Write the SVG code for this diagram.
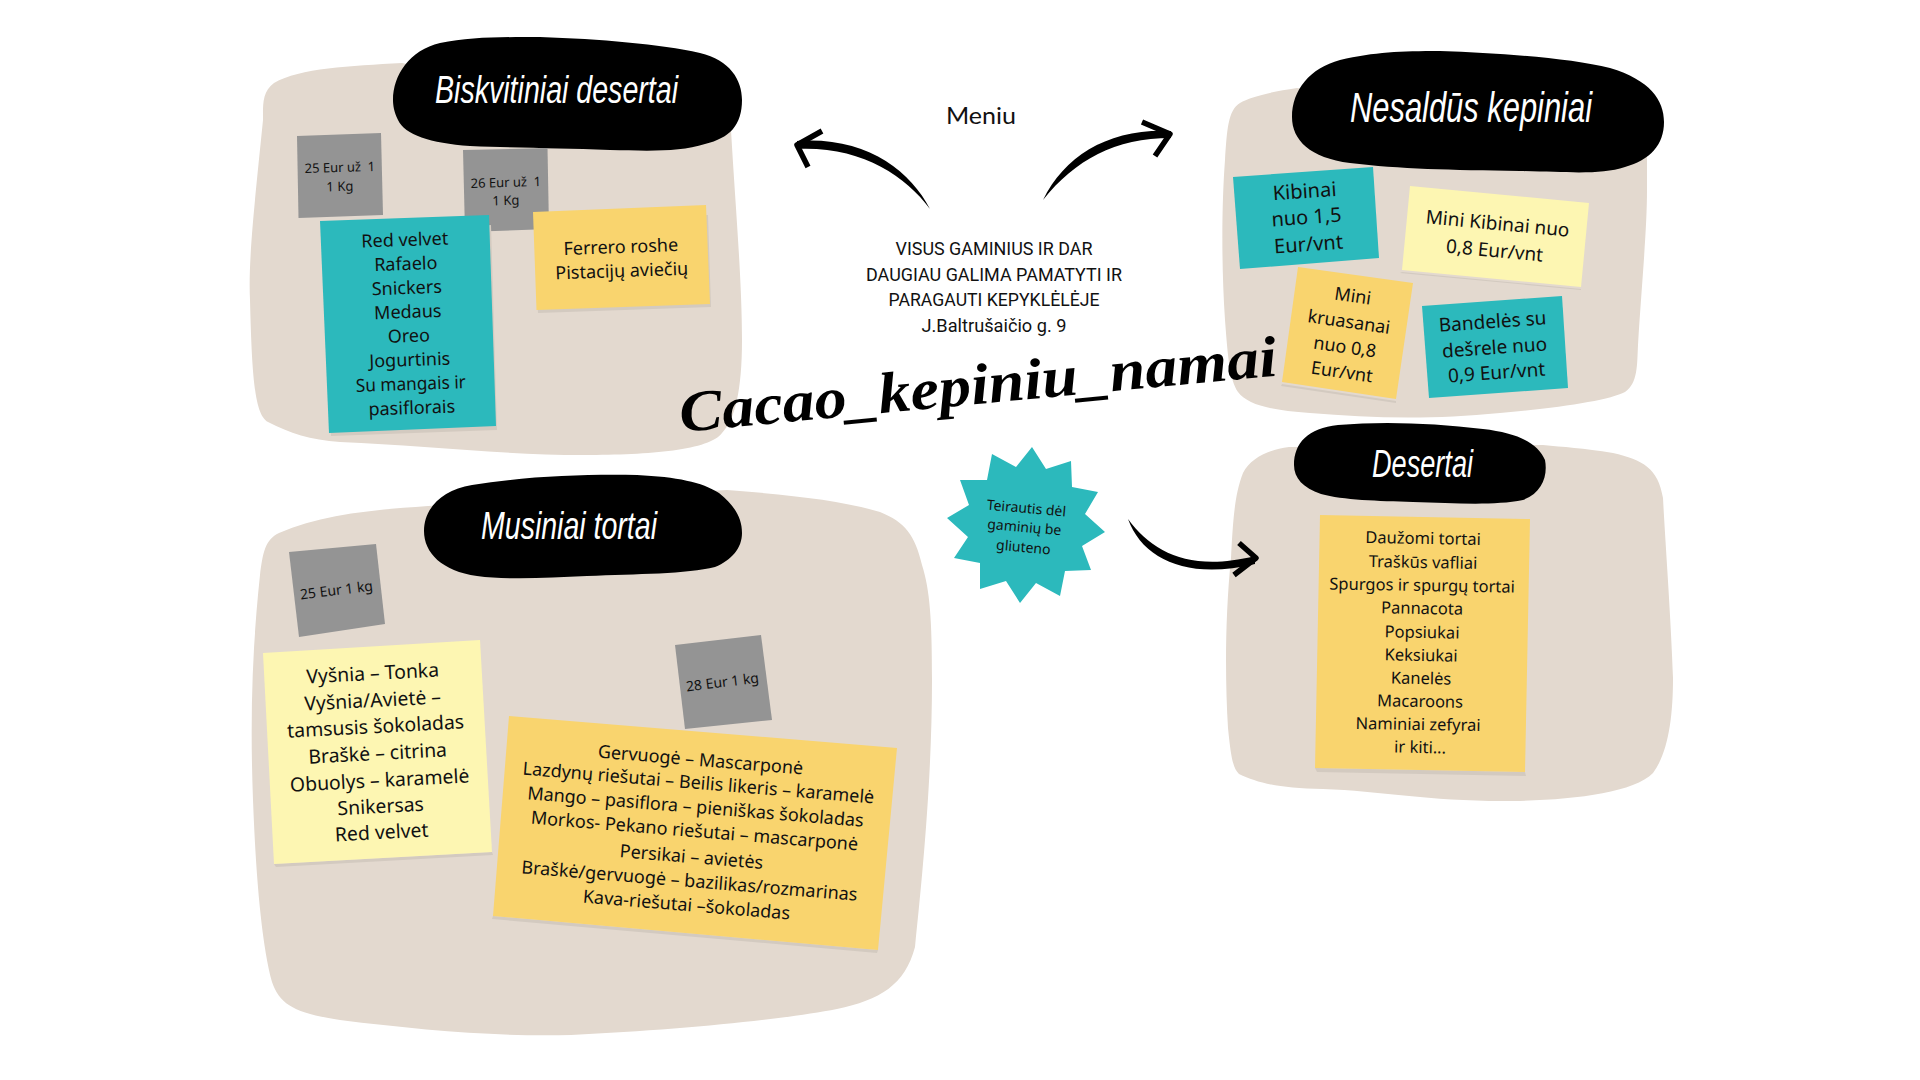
<svg xmlns="http://www.w3.org/2000/svg" width="1920" height="1080" viewBox="0 0 1920 1080">
<style>
text{font-family:"Noto Sans","Open Sans","Liberation Sans",sans-serif;fill:#111;text-anchor:middle;white-space:pre}
.bg{fill:#E3D9CF}
.head{fill:#000}
.title{font-family:"Liberation Sans Narrow","Liberation Sans",sans-serif;font-style:italic;fill:#fff;text-anchor:start}
.teal{fill:#2CB9BC}
.orange{fill:#F9D46E}
.yellow{fill:#FDF6B2}
.gray{fill:#949494}
.shadow{fill:#D3CAC0}
.s13{font-size:13px}
.s14{font-size:14px}
.s17{font-size:16.5px}
.s18{font-size:18px}
.s19{font-size:19px}
.cap{font-family:"Roboto","Liberation Sans",sans-serif;font-size:17.5px}
.ink{fill:#000;stroke:none}
.head-stroke{fill:none;stroke:#000;stroke-width:5.5;stroke-linecap:butt;stroke-linejoin:round}
</style>
<g id="biskvitiniai">
<path class="bg" d="M402,63C350,66 300,68 274,83C262,92 263,105 263,120C255,200 248,260 250,300C252,380 255,415 268,422C290,433 310,440 340,442C420,445 500,455 584,455C650,455 710,450 722,433C735,420 742,390 742,340C742,280 735,200 731,130Z"/>
<path class="head" d="M393,100C393,75 410,50 440,43C470,37 500,37 540,37C600,39 660,44 700,53C730,60 742,80 742,100C742,125 730,138 705,144C680,152 650,151 610,150C560,148 520,148 470,146C430,143 405,135 398,120C394,112 393,105 393,100Z"/>
<text class="title" x="435" y="103" font-size="39" textLength="243" lengthAdjust="spacingAndGlyphs">Biskvitiniai desertai</text>
<g id="kaina-25">
<polygon class="gray" points="297,136 381,133 383,215 298.5,218"/>
<text class="s13" transform="rotate(-1.6 340 172)" x="340" y="172">25 Eur už  1</text>
<text class="s13" transform="rotate(-1.6 340 191)" x="340" y="191">1 Kg</text>
</g>
<g id="kaina-26">
<polygon class="gray" points="463,150 547.5,148 549,229 465,232"/>
<text class="s13" transform="rotate(-1.6 506 187)" x="506" y="187">26 Eur už  1</text>
<text class="s13" transform="rotate(-1.6 506 205)" x="506" y="205">1 Kg</text>
</g>
<g id="biskvitiniai-list">
<polygon class="shadow" points="322,240 491,225 497,430 331,436"/>
<polygon class="teal" points="320,221 489,215 496,426 329,433"/>
<g class="s18">
<text transform="rotate(-2 405 246)" x="405" y="246">Red velvet</text>
<text transform="rotate(-2 406 270)" x="406" y="270">Rafaelo</text>
<text transform="rotate(-2 407 294)" x="407" y="294">Snickers</text>
<text transform="rotate(-2 408 318)" x="408" y="318">Medaus</text>
<text transform="rotate(-2 409 342)" x="409" y="342">Oreo</text>
<text transform="rotate(-2 410 366)" x="410" y="366">Jogurtinis</text>
<text transform="rotate(-2 411 390)" x="411" y="390" textLength="110" lengthAdjust="spacingAndGlyphs">Su mangais ir</text>
<text transform="rotate(-2 412 414)" x="412" y="414">pasiflorais</text>
</g>
</g>
<g id="ferrero">
<polygon class="shadow" points="535,225 708,215 711,307 538,313"/>
<polygon class="orange" points="533,212 706,205 710,304 536.5,310"/>
<g class="s18">
<text transform="rotate(-2 621 253)" x="621" y="253">Ferrero roshe</text>
<text transform="rotate(-2 622 277)" x="622" y="277">Pistacijų aviečių</text>
</g>
</g>
</g>
<g id="nesaldus">
<path class="bg" d="M1297,88C1270,92 1250,97 1240,103C1228,110 1227,130 1225,160C1222,200 1221,260 1225,320C1228,360 1230,380 1238,392C1248,405 1270,410 1310,413C1370,418 1430,420 1500,413C1560,408 1610,400 1625,392C1638,383 1637,365 1638,345C1642,280 1647,230 1647,190L1647,150Z"/>
<path class="head" d="M1292,117C1292,90 1310,68 1340,60C1375,52 1400,51 1440,51C1500,53 1570,58 1610,68C1650,80 1664,100 1664,122C1664,145 1650,160 1625,167C1600,175 1570,172 1520,171C1450,170 1400,169 1350,163C1310,158 1292,140 1292,117Z"/>
<text class="title" x="1350" y="122" font-size="42" textLength="242" lengthAdjust="spacingAndGlyphs">Nesaldūs kepiniai</text>
<g id="kibinai">
<polygon class="teal" points="1233,177 1373,167 1379,258 1240,269"/>
<g font-size="20">
<text transform="rotate(-4 1305 198)" x="1305" y="198">Kibinai</text>
<text transform="rotate(-4 1307 224)" x="1307" y="224">nuo 1,5</text>
<text transform="rotate(-4 1309 251)" x="1309" y="251">Eur/vnt</text>
</g>
</g>
<g id="mini-kibinai">
<polygon class="shadow" points="1402,272 1581,289 1581,290 1400,273"/>
<polygon class="yellow" points="1410,186 1589,203 1581,287 1402,270"/>
<g class="s19">
<text transform="rotate(5.4 1497 230)" x="1497" y="230">Mini Kibinai nuo</text>
<text transform="rotate(5.4 1494 257)" x="1494" y="257">0,8 Eur/vnt</text>
</g>
</g>
<g id="mini-kruasanai">
<polygon class="shadow" points="1282,384 1396,401 1396,403 1281,386"/>
<polygon class="orange" points="1298,267 1413,283 1396,399 1282,382"/>
<g class="s18">
<text transform="rotate(8.2 1352 302)" x="1352" y="302">Mini</text>
<text transform="rotate(8.2 1348 328)" x="1348" y="328">kruasanai</text>
<text transform="rotate(8.2 1344 353)" x="1344" y="353">nuo 0,8</text>
<text transform="rotate(8.2 1341 378)" x="1341" y="378">Eur/vnt</text>
</g>
</g>
<g id="bandeles">
<polygon class="teal" points="1422,306 1562,296 1568,388 1429,398"/>
<g class="s19">
<text transform="rotate(-4 1493 328)" x="1493" y="328">Bandelės su</text>
<text transform="rotate(-4 1495 354)" x="1495" y="354">dešrele nuo</text>
<text transform="rotate(-4 1497 379)" x="1497" y="379">0,9 Eur/vnt</text>
</g>
</g>
</g>
<g id="musiniai">
<path class="bg" d="M428,506C370,510 320,515 279,533C265,540 263,552 260,575C252,650 250,720 253,800C256,880 262,945 272,982C280,1005 295,1013 340,1020C420,1030 500,1037 571,1035C680,1030 780,1020 837,1009C880,1000 905,985 915,947C922,880 932,780 932,680C932,620 930,590 922,565C915,535 905,522 880,512C840,500 790,495 727,490Z"/>
<g transform="translate(-3,-2)">
<path class="head" d="M427,533C427,510 445,492 475,487C530,478 590,476 640,477C680,479 705,484 722,495C738,508 745,520 745,535C745,550 735,562 718,569C690,576 640,576 590,578C550,580 510,582 480,578C445,573 427,555 427,533Z"/>
<text class="title" x="484" y="541" font-size="38" textLength="176" lengthAdjust="spacingAndGlyphs">Musiniai tortai</text>
</g>
<g id="kaina-25-kg" transform="translate(-1,-4)">
<polygon class="gray" points="290,556 377,548 386,628 300,641"/>
<text class="s14" transform="rotate(-7 338 599)" x="338" y="599">25 Eur 1 kg</text>
</g>
<g id="kaina-28-kg" transform="translate(-4,-4)">
<polygon class="gray" points="679,649 765,639 776,724 689,733"/>
<text class="s14" transform="rotate(-7 727 691)" x="727" y="691">28 Eur 1 kg</text>
</g>
<g id="vysnia" transform="translate(-2,-5)">
<polygon class="shadow" points="276,869 494,857 495,860 278,872"/>
<polygon class="yellow" points="265,658 482,645 494,857 276,869"/>
<g font-size="19.4">
<text transform="rotate(-3 375 685)" x="375" y="685">Vyšnia – Tonka</text>
<text transform="rotate(-3 375 712)" x="375" y="712">Vyšnia/Avietė –</text>
<text transform="rotate(-3 378 738)" x="378" y="738">tamsusis šokoladas</text>
<text transform="rotate(-3 380 765)" x="380" y="765">Braškė – citrina</text>
<text transform="rotate(-3 382 792)" x="382" y="792">Obuolys – karamelė</text>
<text transform="rotate(-3 383 818)" x="383" y="818">Snikersas</text>
<text transform="rotate(-3 384 844)" x="384" y="844">Red velvet</text>
</g>
</g>
<g id="gervuoge" transform="translate(-3,-5)">
<polygon class="shadow" points="496,921 881,955 880,958 495,924"/>
<polygon class="orange" points="512,721 900,753 881,955 496,921"/>
<g font-size="18" transform="translate(-1,-3)">
<text transform="rotate(4.7 704 774)" x="704" y="774">Gervuogė – Mascarponė</text>
<text transform="rotate(4.7 702 797)" x="702" y="797">Lazdynų riešutai – Beilis likeris – karamelė</text>
<text transform="rotate(4.7 699 821)" x="699" y="821">Mango – pasiflora – pieniškas šokoladas</text>
<text transform="rotate(4.7 698 845)" x="698" y="845">Morkos- Pekano riešutai – mascarponė</text>
<text transform="rotate(4.7 695 871)" x="695" y="871">Persikai – avietės</text>
<text transform="rotate(4.7 693 895)" x="693" y="895">Braškė/gervuogė – bazilikas/rozmarinas</text>
<text transform="rotate(4.7 690 919)" x="690" y="919">Kava-riešutai –šokoladas</text>
</g>
</g>
</g>
<g id="desertai" transform="translate(-7,-2)">
<path class="bg" d="M1296,449C1275,452 1258,460 1250,475C1242,495 1240,520 1238,560C1232,620 1232,680 1235,730C1238,760 1240,770 1246,776C1265,785 1285,790 1330,791C1390,793 1440,804 1520,803C1580,802 1640,795 1660,775C1675,755 1680,720 1680,680C1678,620 1672,540 1670,500C1665,470 1650,462 1620,455C1590,450 1570,449 1550,447Z"/>
<path class="head" d="M1301,467C1301,445 1315,430 1345,427C1390,423 1440,425 1490,431C1525,435 1545,445 1552,462C1555,478 1549,495 1530,502C1500,508 1460,505 1420,504C1385,503 1350,502 1328,496C1310,490 1301,480 1301,467Z"/>
<text class="title" x="1379" y="479" font-size="38" textLength="101" lengthAdjust="spacingAndGlyphs">Desertai</text>
<g id="desertai-list">
<polygon class="shadow" points="1322,770 1532,774 1533,778 1324,774"/>
<polygon class="orange" points="1327,517 1537,521 1532,774 1322,770"/>
<g class="s17">
<text transform="rotate(1 1430 546)" x="1430" y="546">Daužomi tortai</text>
<text transform="rotate(1 1430 570)" x="1430" y="570">Traškūs vafliai</text>
<text transform="rotate(1 1429 593)" x="1429" y="593">Spurgos ir spurgų tortai</text>
<text transform="rotate(1 1429 616)" x="1429" y="616">Pannacota</text>
<text transform="rotate(1 1429 640)" x="1429" y="640">Popsiukai</text>
<text transform="rotate(1 1428 663)" x="1428" y="663">Keksiukai</text>
<text transform="rotate(1 1428 686)" x="1428" y="686">Kanelės</text>
<text transform="rotate(1 1427 709)" x="1427" y="709">Macaroons</text>
<text transform="rotate(1 1425 732)" x="1425" y="732">Naminiai zefyrai</text>
<text transform="rotate(1 1427 755)" x="1427" y="755">ir kiti...</text>
</g>
</g>
</g>
<g id="info">
<text class="cap" x="994" y="255" textLength="197" lengthAdjust="spacingAndGlyphs">VISUS GAMINIUS IR DAR</text>
<text class="cap" x="994" y="281" textLength="256" lengthAdjust="spacingAndGlyphs">DAUGIAU GALIMA PAMATYTI IR</text>
<text class="cap" x="994" y="306" textLength="211" lengthAdjust="spacingAndGlyphs">PARAGAUTI KEPYKLĖLĖJE</text>
<text class="cap" x="994" y="332" textLength="145" lengthAdjust="spacingAndGlyphs">J.Baltrušaičio g. 9</text>
</g>
<g id="meniu">
<text x="986" y="124" font-size="24" textLength="70" lengthAdjust="spacingAndGlyphs" style="font-family:'Lato','Liberation Sans',sans-serif;text-anchor:middle" transform="translate(-5,0)">Meniu</text>
</g>
<g id="brand">
<text transform="translate(681,432) rotate(-5.4)" x="0" y="0" font-size="58" font-weight="700" font-style="italic" textLength="600" lengthAdjust="spacingAndGlyphs" style="font-family:'Liberation Serif',serif;text-anchor:start;fill:#000">Cacao_kepiniu_namai</text>
</g>
<g id="gliuteno">
<polygon class="teal" points="1032,447 1046,469 1071,461 1072,487 1098,492 1085,514 1105,532 1082,546 1091,570 1065,571 1060,596 1036,583 1020,603 1006,581 980,589 980,563 954,558 968,537 947,518 969,505 960,480 987,480 992,454 1016,467"/>
<g class="s14" transform="translate(-5,-2)">
<text transform="rotate(5 1031 515)" x="1031" y="515">Teirautis dėl</text>
<text transform="rotate(5 1029 534)" x="1029" y="534">gaminių be</text>
<text transform="rotate(5 1028 554)" x="1028" y="554">gliuteno</text>
</g>
</g>
<g id="connectors">
<path class="ink" d="M930,209C910,170 865,136 797,141L797,149C860,146 905,175 930,209Z"/>
<polyline class="head-stroke" points="822,131 797,145 808,167"/>
<path class="ink" d="M1043,200C1065,155 1110,128 1171,131L1171,138C1115,138 1075,160 1043,200Z"/>
<polyline class="head-stroke" points="1142,122 1170,134 1155,156"/>
<path class="ink" d="M1135,519C1160,553 1198,572 1262,556L1262,564C1195,580 1150,560 1135,519Z" transform="translate(-7,0)"/>
<polyline class="head-stroke" points="1239,543 1256,558 1234,575"/>
</g>
</svg>
